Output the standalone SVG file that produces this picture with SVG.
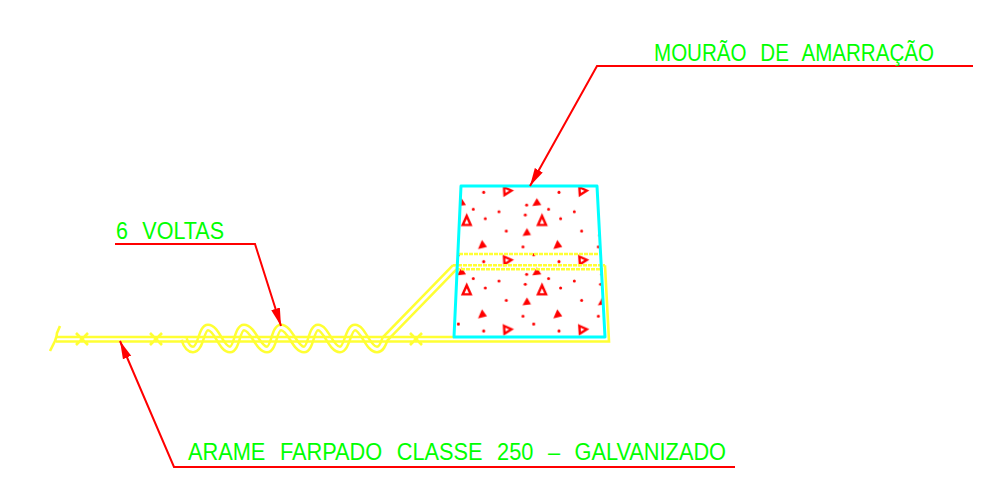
<svg xmlns="http://www.w3.org/2000/svg" width="987" height="495" viewBox="0 0 987 495">
<style>
.lbl{font-family:"Liberation Sans",Arial,sans-serif;font-size:23px;fill:#00ff00;word-spacing:9px}
.lead{fill:none;stroke:#ff0000;stroke-width:2}
.yel{fill:none;stroke:#ffff33;stroke-width:2.6}
.dash{fill:none;stroke:#ffff33;stroke-width:2.6;stroke-dasharray:4 1}
.post{stroke:#00ffff;stroke-width:3;stroke-linejoin:round}
.tri{fill:none;stroke:#ff0000;stroke-width:2.4}
.sol{fill:#ff0000}
</style>
<defs>
<marker id="arrow" markerUnits="userSpaceOnUse" markerWidth="18" markerHeight="12" refX="18" refY="6" orient="auto"><path d="M0 1.5L18 6L0 10.5Z" fill="#ff0000"/></marker>
<pattern id="hatch" patternUnits="userSpaceOnUse" x="456" y="184" width="75.33" height="69.33">
<g class="tri"><path d="M48 3.2L55.5 6.7L48.5 11Z"/><path d="M10.7 32L14.7 41H6.7Z"/></g>
<g class="sol"><path d="M1 22L5.5 14L10 21Z"/><path d="M66.5 52L71 44L75 51Z"/><path d="M22 65L26 56L31 63Z"/></g>
<g class="sol"><circle cx="27.7" cy="8.3" r="1.5"/><circle cx="17.3" cy="25.3" r="1.5"/><circle cx="43" cy="27.7" r="1.5"/><circle cx="29.3" cy="34.7" r="1.5"/><circle cx="50.3" cy="47" r="1.5"/><circle cx="67" cy="63" r="1.5"/><circle cx="70.7" cy="21" r="1.5"/><circle cx="69.3" cy="31" r="1.5"/><circle cx="2.4" cy="1.4" r="1.5"/></g>
</pattern>
</defs>
<rect width="987" height="495" fill="#ffffff"/>
<g id="mourao">
<path d="M461 186H597L605 337H454Z" fill="url(#hatch)"/>
</g>
<g id="arame">
<path d="M184 339C186 345 189 349.5 193 349.5C201 349.5 201 327.5 208 327.5C217 327.5 221 349.5 230 349.5C237 349.5 237 327.5 244 327.5C253 327.5 258 349.5 267 349.5C274 349.5 274 327.5 281 327.5C290 327.5 295 349.5 304 349.5C311 349.5 311 327.5 318 327.5C326 327.5 331 349.5 340 349.5C347 349.5 348 327.5 355 327.5C363 327.5 368 349.5 377 349.5C381 349.5 383 345 385 339L455 267" fill="none" stroke="#ffff33" stroke-width="8"/>
<path d="M184 339C186 345 189 349.5 193 349.5C201 349.5 201 327.5 208 327.5C217 327.5 221 349.5 230 349.5C237 349.5 237 327.5 244 327.5C253 327.5 258 349.5 267 349.5C274 349.5 274 327.5 281 327.5C290 327.5 295 349.5 304 349.5C311 349.5 311 327.5 318 327.5C326 327.5 331 349.5 340 349.5C347 349.5 348 327.5 355 327.5C363 327.5 368 349.5 377 349.5C381 349.5 383 345 385 339L455 267" fill="none" stroke="#ffffff" stroke-width="3"/>
<path class="yel" d="M56 337H454M56 341.5H609L605 265.3M50 351L55 341Q57 336 57 333L60 326M76 333L88 345M88 333L76 345M150 333L162 345M162 333L150 345M410 333L422 345M422 333L410 345"/>
<path class="dash" d="M459 254H601M453 265.3H605M456 269.3H603"/>
</g>
<g id="poste">
<path class="post" d="M461 186H597L605 337H454Z" fill="none"/>
</g>
<g id="connectors">
<path class="lead" d="M973 66H597L530 186" marker-end="url(#arrow)"/>
<path class="lead" d="M115 244H255L281 326" marker-end="url(#arrow)"/>
<path class="lead" d="M735 467H174L120 341" marker-end="url(#arrow)"/>
</g>
<g id="labels">
<text class="lbl" x="654" y="61" textLength="280" lengthAdjust="spacingAndGlyphs">MOURÃO DE AMARRAÇÃO</text>
<text class="lbl" x="116" y="239" textLength="108" lengthAdjust="spacingAndGlyphs">6 VOLTAS</text>
<text class="lbl" x="188" y="460" textLength="538" lengthAdjust="spacingAndGlyphs">ARAME FARPADO CLASSE 250 – GALVANIZADO</text>
</g>
</svg>
